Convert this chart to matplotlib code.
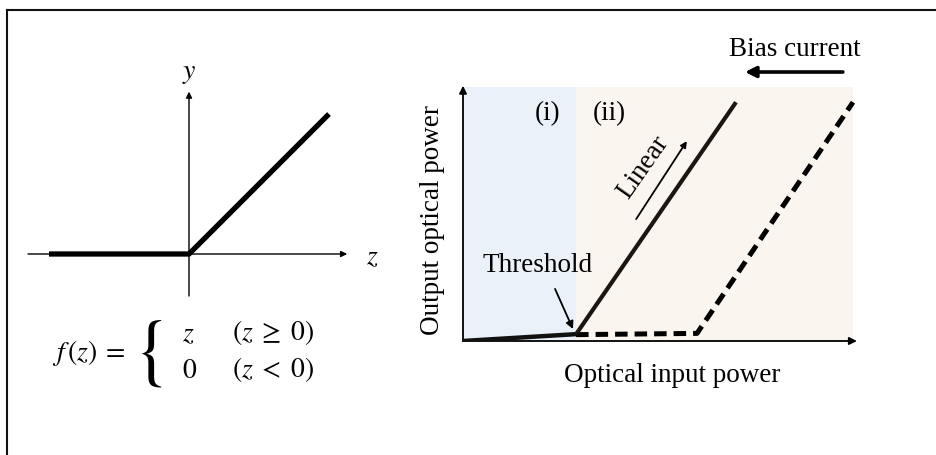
import matplotlib.pyplot as plt
from matplotlib.lines import Line2D

plt.rcParams['mathtext.fontset'] = 'stix'
SERIF = 'Liberation Serif'

W, H = 937, 456

# ReLU: z -> max(z, 0)
relu_z = [-1.0, 0.0, 1.0]
relu_y = [0.0, 0.0, 1.0]

# laser response (input power vs output power, arbitrary units)
regions = [0.0, 2.9, 10.0]            # (i) below threshold, (ii) above
region_colors = ['#EAF1F9', '#FBF5EF']
below_x = [0.0, 2.9]
below_y = [0.0, 0.27]
solid_x = [2.9, 7.0]
solid_y = [0.27, 9.4]
dashed_x = [2.9, 6.0, 10.0]
dashed_y = [0.25, 0.30, 9.4]


def fpos(x, y):
    # pixel position -> figure fraction
    return x / W, 1 - y / H


def axes_at(left, top, right, bottom):
    x0, y1 = fpos(left, top)
    x1, y0 = fpos(right, bottom)
    return fig.add_axes([x0, y0, x1 - x0, y1 - y0])


fig = plt.figure(figsize=(W / 100, H / 100), dpi=100)

# frame on the top and left edge
fig.add_artist(Line2D([7 / W, 1], [1 - 11 / H] * 2, color='#111111', lw=1.5))
fig.add_artist(Line2D([7 / W] * 2, [1 - 11 / H, 0], color='#111111', lw=1.5))

# ---- left: ReLU ----
ax1 = axes_at(21, 59, 357, 367)
ax1.set_xlim(-1.2, 1.2)
ax1.set_ylim(-0.8, 1.4)
ax1.axis('off')

arr = dict(arrowstyle='-|>', lw=1.0, color='black', mutation_scale=9,
           shrinkA=0, shrinkB=0)
ax1.annotate('', xy=(1.13, 0), xytext=(-1.15, 0), arrowprops=arr)
ax1.annotate('', xy=(0, 1.16), xytext=(0, -0.3), arrowprops=arr)
ax1.plot(relu_z, relu_y, color='black', lw=3.8, solid_capstyle='butt')
ax1.text(0, 1.31, '$y$', fontsize=20, ha='center', va='center')
ax1.text(1.31, -0.01, '$z$', fontsize=20, ha='center', va='center')

fs = 20
fig.text(*fpos(89, 353), r'$f\,(z)\;=$', fontsize=fs, ha='center',
         va='center')
fig.text(*fpos(148, 351), r'$\{$', fontsize=56, ha='center', va='center')
fig.text(*fpos(188, 333), '$z$', fontsize=fs, ha='center', va='center')
fig.text(*fpos(273, 333), r'$(z\;\geq\;0)$', fontsize=fs, ha='center',
         va='center')
fig.text(*fpos(190, 370), '$0$', fontsize=fs, ha='center', va='center')
fig.text(*fpos(273, 370), r'$(z\;<\;0)$', fontsize=fs, ha='center',
         va='center')

# ---- right: laser output vs input ----
ax2 = axes_at(463, 88, 853, 342)
ax2.set_xlim(0, 10)
ax2.set_ylim(0, 10)
ax2.axis('off')

for (a, b), c in zip(zip(regions[:-1], regions[1:]), region_colors):
    ax2.axvspan(a, b, color=c, lw=0, zorder=0)

arr2 = dict(arrowstyle='-|>', lw=1.3, color='black', mutation_scale=11,
            shrinkA=0, shrinkB=0)
ax2.annotate('', xy=(10.1, 0), xytext=(0, 0), arrowprops=arr2,
             annotation_clip=False)
ax2.annotate('', xy=(0, 10.05), xytext=(0, 0), arrowprops=arr2,
             annotation_clip=False)

ax2.plot(below_x, below_y, color='#111111', lw=3.2, zorder=3)
ax2.plot(dashed_x, dashed_y, color='black', lw=3.6, dashes=(2.5, 1.4),
         zorder=3, clip_on=False)
ax2.plot(solid_x, solid_y, color='#1c1512', lw=3.0, zorder=4,
         solid_capstyle='butt')

tfs = 19.5
ax2.text(2.18, 9.0, '(i)', fontsize=tfs, family=SERIF, ha='center',
         va='center')
ax2.text(3.74, 9.0, '(ii)', fontsize=tfs, family=SERIF, ha='center',
         va='center')
ax2.text(1.9, 3.03, 'Threshold', fontsize=tfs, family=SERIF, ha='center',
         va='center')
ax2.annotate('', xy=(2.82, 0.47), xytext=(2.36, 2.05),
             arrowprops=dict(arrowstyle='-|>', lw=1.3, color='black',
                             mutation_scale=11, shrinkA=0, shrinkB=0))
ax2.text(4.62, 6.89, 'Linear', fontsize=tfs, family=SERIF, ha='center',
         va='center', rotation=55)
ax2.annotate('', xy=(5.74, 7.87), xytext=(4.44, 4.80),
             arrowprops=dict(arrowstyle='-|>', lw=1.3, color='black',
                             mutation_scale=9, shrinkA=0, shrinkB=0))
ax2.text(8.51, 11.5, 'Bias current', fontsize=tfs, family=SERIF,
         ha='center', va='center', clip_on=False)
ax2.annotate('', xy=(7.23, 10.59), xytext=(9.74, 10.59),
             arrowprops=dict(arrowstyle='-|>', lw=2.6, color='black',
                             mutation_scale=16, shrinkA=0, shrinkB=0),
             annotation_clip=False)
ax2.text(-0.77, 4.8, 'Output optical power', fontsize=tfs, family=SERIF,
         ha='center', va='center', rotation=90)
ax2.text(5.36, -1.3, 'Optical input power', fontsize=tfs, family=SERIF,
         ha='center', va='center')

fig.savefig('out.png', dpi=100)
